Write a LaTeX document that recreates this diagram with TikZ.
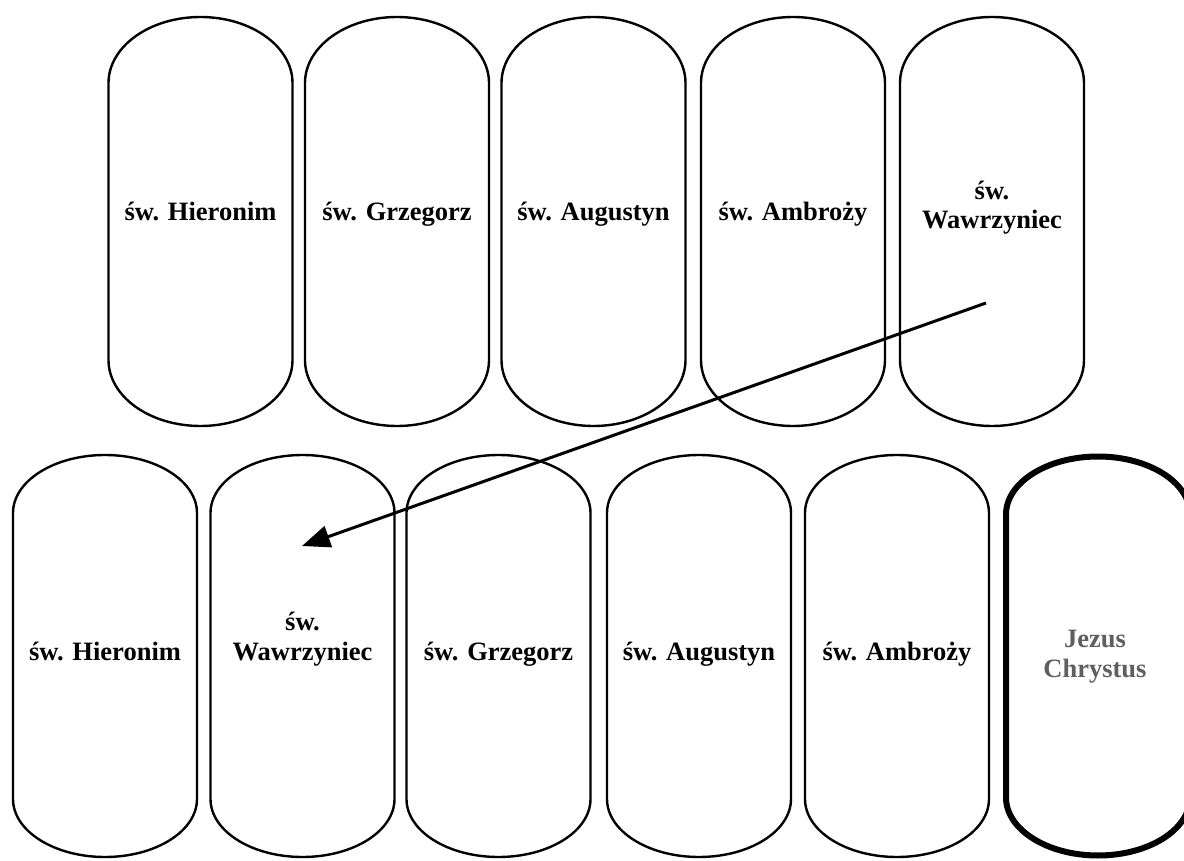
\documentclass[tikz,border=0pt]{standalone}
\usepackage{fontspec}
\setmainfont{Liberation Serif}
\usetikzlibrary{arrows.meta}
\definecolor{jcgray}{RGB}{95,95,95}
\tikzset{
  pillline/.style={draw=black, line width=2.4pt},
  pillthick/.style={draw=black, line width=6pt},
  pics/pill/.style args={#1/#2/#3/#4}{code={
    \path[#4] (-#1,{-(#2-#3)}) arc[start angle=180,end angle=360,x radius=#1,y radius=#3]
      -- (#1,{#2-#3}) arc[start angle=0,end angle=180,x radius=#1,y radius=#3] -- cycle;}},
  saint/.style={font=\fontsize{26.5}{29.5}\selectfont\bfseries, align=center, inner sep=0pt, anchor=base},
  arrowline/.style={line width=3pt, -{Triangle[length=28pt,width=22pt]}}
}
\begin{document}
\begin{tikzpicture}[x=1pt,y=-1pt]
\useasboundingbox (0,0) rectangle (1184,861);
% top row
\pic at (200.5,221.5) {pill=92/204.5/66/pillline};
\pic at (397,221.5) {pill=92/204.5/66/pillline};
\pic at (593.5,221.5) {pill=92/204.5/66/pillline};
\pic at (793,221.5) {pill=92/204.5/66/pillline};
\pic at (992,221.5) {pill=92/204.5/66/pillline};
\node[saint] (t1) at (200.5,221) {św. Hieronim};
\node[saint] (t2) at (397,221) {św. Grzegorz};
\node[saint] (t3) at (593.5,221) {św. Augustyn};
\node[saint] (t4) at (793,221) {św. Ambroży};
\node[saint] (t5) at (992,229) {św.\\Wawrzyniec};
% bottom row
\pic at (105,656) {pill=92/201/58/pillline};
\pic at (302.5,656) {pill=92/201/58/pillline};
\pic at (498.5,656) {pill=92/201/58/pillline};
\pic at (699,656) {pill=92/201/58/pillline};
\pic at (897,656) {pill=92/201/58/pillline};
\pic at (1098,656) {pill=92/199.5/58/pillthick};
\node[saint] (b1) at (105,660) {św. Hieronim};
\node[saint] (b2) at (302.5,660) {św.\\Wawrzyniec};
\node[saint] (b3) at (498.5,660) {św. Grzegorz};
\node[saint] (b4) at (699,660) {św. Augustyn};
\node[saint] (b5) at (897,660) {św. Ambroży};
\node[saint, text=jcgray] (b6) at (1095,677) {Jezus\\Chrystus};
% arrow
\coordinate (arrstart) at (986,303);
\coordinate (arrend) at (302,546);
\draw[arrowline] (arrstart) -- (arrend);
\end{tikzpicture}
\end{document}
